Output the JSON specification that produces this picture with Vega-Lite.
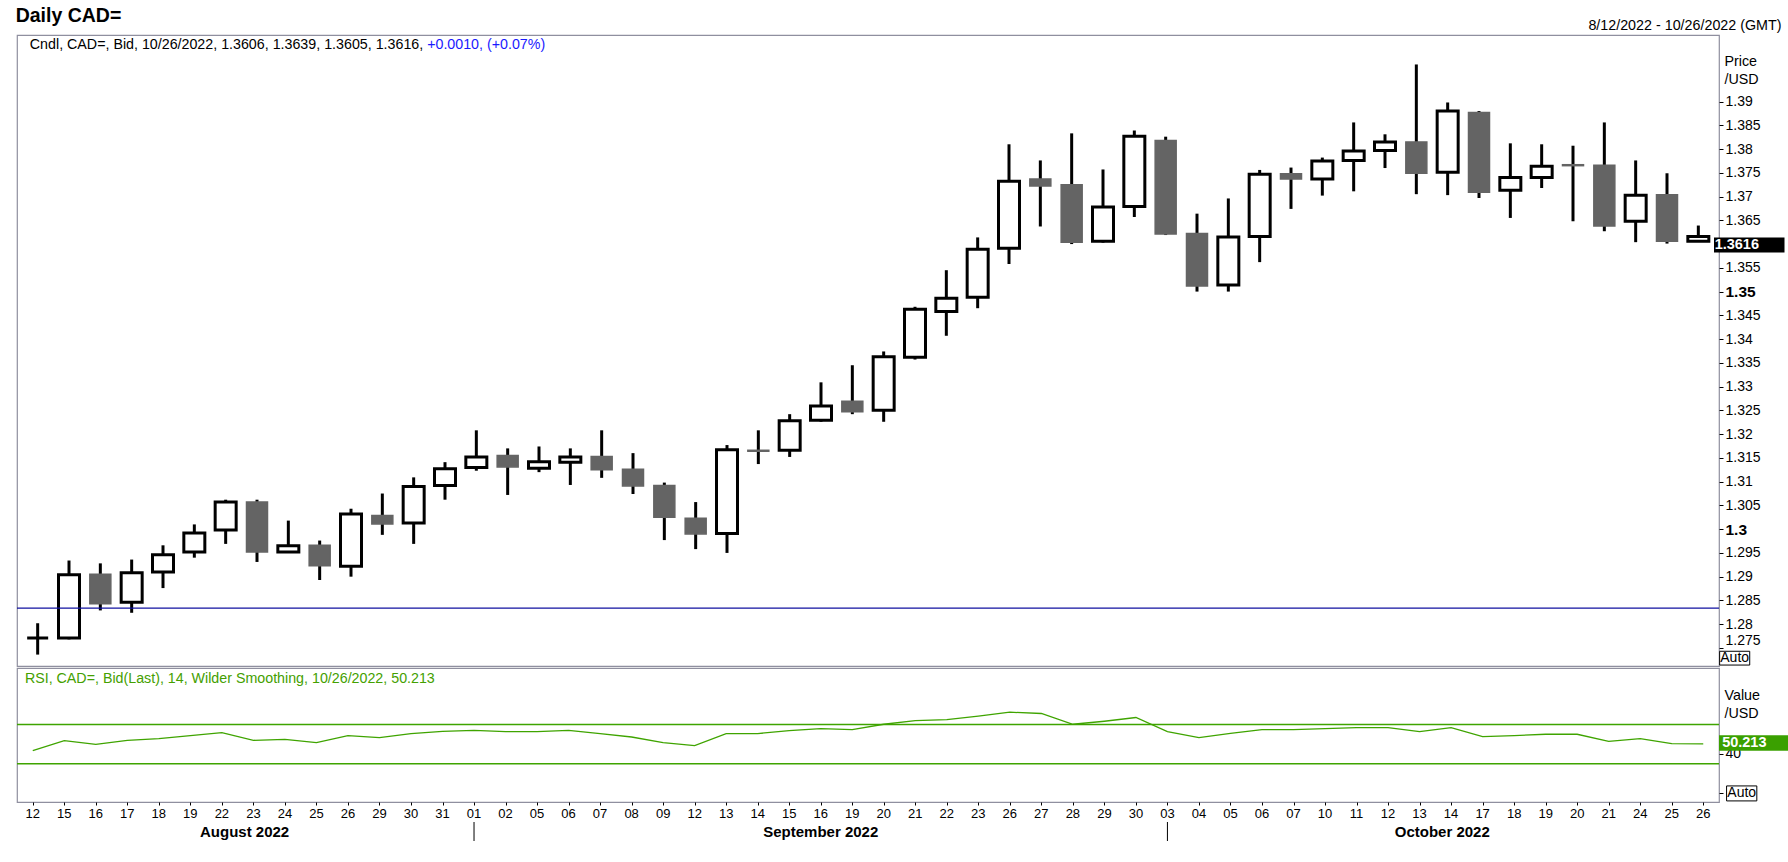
{
  "$schema": "https://vega.github.io/schema/vega-lite/v6.json",
  "background": "white",
  "padding": {"left": 15, "top": 6, "right": 0, "bottom": 0},
  "title": {"text": "Daily CAD=", "anchor": "start", "fontSize": 19.5, "fontWeight": "bold", "offset": -8.5},
  "spacing": 0,
  "config": {
    "font": "Liberation Sans",
    "view": {"stroke": "#8f8f9f", "strokeWidth": 1.2},
    "title": {"color": "black", "font": "Liberation Sans"},
    "axis": {"labelFont": "Liberation Sans", "titleFont": "Liberation Sans", "labelColor": "black", "titleColor": "black", "tickColor": "black", "domain": false, "grid": false, "labelOverlap": false}
  },
  "datasets": {
    "candles": [
      {"i": 0, "date": "2022-08-12", "d": "12", "o": 1.2771, "h": 1.2802, "l": 1.2736, "c": 1.2771, "rsi": 43.3},
      {"i": 1, "date": "2022-08-15", "d": "15", "o": 1.2771, "h": 1.2934, "l": 1.2768, "c": 1.2904, "rsi": 53.6},
      {"i": 2, "date": "2022-08-16", "d": "16", "o": 1.2905, "h": 1.2928, "l": 1.2829, "c": 1.2843, "rsi": 49.8},
      {"i": 3, "date": "2022-08-17", "d": "17", "o": 1.2846, "h": 1.2936, "l": 1.2824, "c": 1.2908, "rsi": 53.9},
      {"i": 4, "date": "2022-08-18", "d": "18", "o": 1.2910, "h": 1.2966, "l": 1.2876, "c": 1.2946, "rsi": 55.6},
      {"i": 5, "date": "2022-08-19", "d": "19", "o": 1.2952, "h": 1.3010, "l": 1.2940, "c": 1.2992, "rsi": 58.7},
      {"i": 6, "date": "2022-08-22", "d": "22", "o": 1.2998, "h": 1.3062, "l": 1.2969, "c": 1.3057, "rsi": 61.8},
      {"i": 7, "date": "2022-08-23", "d": "23", "o": 1.3057, "h": 1.3062, "l": 1.2931, "c": 1.2952, "rsi": 53.9},
      {"i": 8, "date": "2022-08-24", "d": "24", "o": 1.2952, "h": 1.3018, "l": 1.2950, "c": 1.2965, "rsi": 54.9},
      {"i": 9, "date": "2022-08-25", "d": "25", "o": 1.2966, "h": 1.2976, "l": 1.2893, "c": 1.2923, "rsi": 51.5},
      {"i": 10, "date": "2022-08-26", "d": "26", "o": 1.2922, "h": 1.3043, "l": 1.2900, "c": 1.3032, "rsi": 58.7},
      {"i": 11, "date": "2022-08-29", "d": "29", "o": 1.3029, "h": 1.3075, "l": 1.2988, "c": 1.3011, "rsi": 56.7},
      {"i": 12, "date": "2022-08-30", "d": "30", "o": 1.3013, "h": 1.3109, "l": 1.2969, "c": 1.3090, "rsi": 60.8},
      {"i": 13, "date": "2022-08-31", "d": "31", "o": 1.3092, "h": 1.3141, "l": 1.3062, "c": 1.3127, "rsi": 63.1},
      {"i": 14, "date": "2022-09-01", "d": "01", "o": 1.3130, "h": 1.3208, "l": 1.3123, "c": 1.3152, "rsi": 64.1},
      {"i": 15, "date": "2022-09-02", "d": "02", "o": 1.3155, "h": 1.3170, "l": 1.3072, "c": 1.3131, "rsi": 62.8},
      {"i": 16, "date": "2022-09-05", "d": "05", "o": 1.3128, "h": 1.3174, "l": 1.3120, "c": 1.3142, "rsi": 62.8},
      {"i": 17, "date": "2022-09-06", "d": "06", "o": 1.3141, "h": 1.3170, "l": 1.3093, "c": 1.3152, "rsi": 64.1},
      {"i": 18, "date": "2022-09-07", "d": "07", "o": 1.3153, "h": 1.3208, "l": 1.3108, "c": 1.3125, "rsi": 60.8},
      {"i": 19, "date": "2022-09-08", "d": "08", "o": 1.3126, "h": 1.3160, "l": 1.3074, "c": 1.3091, "rsi": 57.3},
      {"i": 20, "date": "2022-09-09", "d": "09", "o": 1.3092, "h": 1.3098, "l": 1.2977, "c": 1.3025, "rsi": 51.5},
      {"i": 21, "date": "2022-09-12", "d": "12", "o": 1.3023, "h": 1.3057, "l": 1.2958, "c": 1.2990, "rsi": 48.5},
      {"i": 22, "date": "2022-09-13", "d": "13", "o": 1.2991, "h": 1.3177, "l": 1.2950, "c": 1.3167, "rsi": 60.8},
      {"i": 23, "date": "2022-09-14", "d": "14", "o": 1.3166, "h": 1.3208, "l": 1.3137, "c": 1.3164, "rsi": 60.8},
      {"i": 24, "date": "2022-09-15", "d": "15", "o": 1.3166, "h": 1.3242, "l": 1.3152, "c": 1.3228, "rsi": 63.8},
      {"i": 25, "date": "2022-09-16", "d": "16", "o": 1.3229, "h": 1.3309, "l": 1.3226, "c": 1.3259, "rsi": 65.9},
      {"i": 26, "date": "2022-09-19", "d": "19", "o": 1.3269, "h": 1.3345, "l": 1.3242, "c": 1.3247, "rsi": 64.9},
      {"i": 27, "date": "2022-09-20", "d": "20", "o": 1.3250, "h": 1.3374, "l": 1.3226, "c": 1.3363, "rsi": 70.3},
      {"i": 28, "date": "2022-09-21", "d": "21", "o": 1.3362, "h": 1.3468, "l": 1.3357, "c": 1.3463, "rsi": 74.1},
      {"i": 29, "date": "2022-09-22", "d": "22", "o": 1.3458, "h": 1.3545, "l": 1.3407, "c": 1.3486, "rsi": 75.1},
      {"i": 30, "date": "2022-09-23", "d": "23", "o": 1.3488, "h": 1.3614, "l": 1.3465, "c": 1.3589, "rsi": 78.5},
      {"i": 31, "date": "2022-09-26", "d": "26", "o": 1.3591, "h": 1.3810, "l": 1.3558, "c": 1.3732, "rsi": 82.6},
      {"i": 32, "date": "2022-09-27", "d": "27", "o": 1.3737, "h": 1.3776, "l": 1.3637, "c": 1.3722, "rsi": 81.3},
      {"i": 33, "date": "2022-09-28", "d": "28", "o": 1.3725, "h": 1.3833, "l": 1.3600, "c": 1.3604, "rsi": 70.3},
      {"i": 34, "date": "2022-09-29", "d": "29", "o": 1.3606, "h": 1.3757, "l": 1.3603, "c": 1.3678, "rsi": 73.4},
      {"i": 35, "date": "2022-09-30", "d": "30", "o": 1.3679, "h": 1.3839, "l": 1.3657, "c": 1.3827, "rsi": 77.2},
      {"i": 36, "date": "2022-10-03", "d": "03", "o": 1.3818, "h": 1.3826, "l": 1.3619, "c": 1.3621, "rsi": 62.8},
      {"i": 37, "date": "2022-10-04", "d": "04", "o": 1.3622, "h": 1.3664, "l": 1.3500, "c": 1.3512, "rsi": 56.7},
      {"i": 38, "date": "2022-10-05", "d": "05", "o": 1.3514, "h": 1.3696, "l": 1.3500, "c": 1.3615, "rsi": 61.1},
      {"i": 39, "date": "2022-10-06", "d": "06", "o": 1.3616, "h": 1.3756, "l": 1.3562, "c": 1.3747, "rsi": 64.9},
      {"i": 40, "date": "2022-10-07", "d": "07", "o": 1.3748, "h": 1.3761, "l": 1.3674, "c": 1.3737, "rsi": 64.9},
      {"i": 41, "date": "2022-10-10", "d": "10", "o": 1.3737, "h": 1.3782, "l": 1.3702, "c": 1.3775, "rsi": 65.9},
      {"i": 42, "date": "2022-10-11", "d": "11", "o": 1.3776, "h": 1.3856, "l": 1.3711, "c": 1.3796, "rsi": 66.9},
      {"i": 43, "date": "2022-10-12", "d": "12", "o": 1.3797, "h": 1.3831, "l": 1.3760, "c": 1.3815, "rsi": 66.9},
      {"i": 44, "date": "2022-10-13", "d": "13", "o": 1.3815, "h": 1.3978, "l": 1.3705, "c": 1.3749, "rsi": 62.8},
      {"i": 45, "date": "2022-10-14", "d": "14", "o": 1.3751, "h": 1.3898, "l": 1.3703, "c": 1.3880, "rsi": 66.9},
      {"i": 46, "date": "2022-10-17", "d": "17", "o": 1.3877, "h": 1.3880, "l": 1.3697, "c": 1.3709, "rsi": 57.7},
      {"i": 47, "date": "2022-10-18", "d": "18", "o": 1.3713, "h": 1.3812, "l": 1.3655, "c": 1.3740, "rsi": 58.7},
      {"i": 48, "date": "2022-10-19", "d": "19", "o": 1.3740, "h": 1.3810, "l": 1.3718, "c": 1.3764, "rsi": 60.1},
      {"i": 49, "date": "2022-10-20", "d": "20", "o": 1.3767, "h": 1.3807, "l": 1.3648, "c": 1.3765, "rsi": 60.1},
      {"i": 50, "date": "2022-10-21", "d": "21", "o": 1.3766, "h": 1.3856, "l": 1.3627, "c": 1.3638, "rsi": 52.9},
      {"i": 51, "date": "2022-10-24", "d": "24", "o": 1.3648, "h": 1.3776, "l": 1.3604, "c": 1.3703, "rsi": 55.6},
      {"i": 52, "date": "2022-10-25", "d": "25", "o": 1.3704, "h": 1.3749, "l": 1.3601, "c": 1.3606, "rsi": 50.5},
      {"i": 53, "date": "2022-10-26", "d": "26", "o": 1.3606, "h": 1.3639, "l": 1.3605, "c": 1.3616, "rsi": 50.213}
    ],
    "refLine": [{"level": 1.2834}],
    "rsiLevels": [{"level": 70}, {"level": 30}],
    "priceHeader": [{"text": "Cndl, CAD=, Bid, 10/26/2022, 1.3606, 1.3639, 1.3605, 1.3616, ", "chg": "+0.0010, (+0.07%)"}],
    "rsiHeader": [{"text": "RSI, CAD=, Bid(Last),  14, Wilder Smoothing, 10/26/2022, 50.213"}],
    "lastPrice": [{"label": "1.3616", "value": 1.3616}],
    "lastRsi": [{"label": "50.213", "value": 50.213}],
    "auto": [{"label": "Auto"}],
    "months": [
      {"month": "August 2022", "i": 6.72},
      {"month": "September 2022", "i": 25},
      {"month": "October 2022", "i": 44.72}
    ],
    "monthStarts": [{"i": 14, "date": "2022-09-01"}, {"i": 36, "date": "2022-10-03"}]
  },
  "vconcat": [
    {
      "width": 1702,
      "height": 631,
      "title": {"text": "8/12/2022 - 10/26/2022 (GMT)", "anchor": "end", "frame": "bounds", "fontSize": 14.3, "fontWeight": "normal", "offset": 0, "dx": -3, "dy": -2},
      "layer": [
        {
          "data": {"name": "candles"},
          "mark": {"type": "rule", "strokeWidth": 3, "color": "black"},
          "encoding": {
            "x": {"field": "i", "type": "quantitative", "scale": {"domain": [-0.5, 53.5], "nice": false, "zero": false}, "axis": null},
            "y": {
              "field": "l", "type": "quantitative",
              "scale": {"domain": [1.2712, 1.404], "nice": false, "zero": false},
              "axis": {
                "orient": "right",
                "values": [1.275, 1.28, 1.285, 1.29, 1.295, 1.3, 1.305, 1.31, 1.315, 1.32, 1.325, 1.33, 1.335, 1.34, 1.345, 1.35, 1.355, 1.36, 1.365, 1.37, 1.375, 1.38, 1.385, 1.39],
                "tickCount": 40,
                "format": ".3~f",
                "labelOverlap": false,
                "labelBound": false,
                "tickSize": 4,
                "labelPadding": 2,
                "labelBaseline": {"condition": {"test": "datum.value < 1.276", "value": "bottom"}, "value": "middle"},
                "labelFontSize": {"condition": {"test": "abs(datum.value*20 - round(datum.value*20)) < 0.000001", "value": 15.5}, "value": 14},
                "labelFontWeight": {"condition": {"test": "abs(datum.value*20 - round(datum.value*20)) < 0.000001", "value": "bold"}, "value": "normal"},
                "title": ["Price", "/USD"],
                "titleAngle": 0,
                "titleAlign": "left",
                "titleBaseline": "top",
                "titleX": 5,
                "titleY": 19.5,
                "titleFontSize": 14.3,
                "titleFontWeight": "normal",
                "titleLineHeight": 18
              }
            },
            "y2": {"field": "h"}
          }
        },
        {
          "data": {"name": "candles"},
          "mark": {"type": "bar", "width": 21},
          "encoding": {
            "x": {"field": "i", "type": "quantitative"},
            "y": {"field": "o", "type": "quantitative"},
            "y2": {"field": "c"},
            "fill": {"condition": {"test": "datum.c >= datum.o", "value": "white"}, "value": "#646464"},
            "stroke": {"condition": {"test": "datum.c >= datum.o", "value": "black"}, "value": "#646464"},
            "strokeWidth": {"condition": {"test": "datum.c >= datum.o", "value": 3}, "value": 1.5}
          }
        },
        {
          "data": {"name": "refLine"},
          "mark": {"type": "rule", "color": "#1010a0", "strokeWidth": 1.2},
          "encoding": {"y": {"field": "level", "type": "quantitative"}}
        },
        {
          "data": {"name": "priceHeader"},
          "mark": {"type": "text", "align": "left", "baseline": "middle", "fontSize": 14.25, "color": "black"},
          "encoding": {"x": {"datum": -0.25}, "y": {"datum": 1.4019}, "text": {"field": "text"}}
        },
        {
          "data": {"name": "priceHeader"},
          "mark": {"type": "text", "align": "left", "baseline": "middle", "fontSize": 14.25, "color": "#1a1aff"},
          "encoding": {"x": {"datum": 12.43}, "y": {"datum": 1.4019}, "text": {"field": "chg"}}
        },
        {
          "data": {"name": "lastPrice"},
          "mark": {"type": "rect", "color": "black"},
          "encoding": {"x": {"datum": 53.5}, "x2": {"datum": 55.75}, "y": {"datum": 1.3614}, "y2": {"datum": 1.3582}}
        },
        {
          "data": {"name": "lastPrice"},
          "mark": {"type": "text", "align": "left", "baseline": "middle", "fontSize": 14.5, "fontWeight": "bold", "color": "white"},
          "encoding": {"x": {"datum": 53.52}, "y": {"datum": 1.3598}, "text": {"field": "label"}}
        },
        {
          "data": {"name": "auto"},
          "mark": {"type": "rect", "fill": "white", "stroke": "black", "strokeWidth": 1},
          "encoding": {"x": {"datum": 53.68}, "x2": {"datum": 54.64}, "y": {"datum": 1.2743}, "y2": {"datum": 1.2714}}
        },
        {
          "data": {"name": "auto"},
          "mark": {"type": "text", "align": "center", "baseline": "middle", "fontSize": 14, "color": "black"},
          "encoding": {"x": {"datum": 54.16}, "y": {"datum": 1.27285}, "text": {"field": "label"}}
        }
      ]
    },
    {
      "width": 1702,
      "height": 134,
      "layer": [
        {
          "data": {"name": "rsiLevels"},
          "mark": {"type": "rule", "color": "#3fa400", "strokeWidth": 1.5},
          "encoding": {
            "y": {
              "field": "level", "type": "quantitative",
              "scale": {"domain": [-9, 127.7], "nice": false, "zero": false},
              "axis": {
                "orient": "right",
                "values": [0, 40],
                "labelExpr": "datum.value == 0 ? '' : datum.label",
                "labelOverlap": false,
                "tickSize": 4,
                "labelPadding": 2,
                "labelFontSize": 14,
                "title": ["Value", "/USD"],
                "titleAngle": 0,
                "titleAlign": "left",
                "titleBaseline": "top",
                "titleX": 5,
                "titleY": 20,
                "titleFontSize": 14.3,
                "titleFontWeight": "normal",
                "titleLineHeight": 18
              }
            }
          }
        },
        {
          "data": {"name": "candles"},
          "mark": {"type": "line", "color": "#3fa400", "strokeWidth": 1.3},
          "encoding": {
            "x": {
              "field": "i", "type": "quantitative",
              "scale": {"domain": [-0.5, 53.5], "nice": false, "zero": false},
              "axis": {"orient": "bottom", "values": [0, 1, 2, 3, 4, 5, 6, 7, 8, 9, 10, 11, 12, 13, 14, 15, 16, 17, 18, 19, 20, 21, 22, 23, 24, 25, 26, 27, 28, 29, 30, 31, 32, 33, 34, 35, 36, 37, 38, 39, 40, 41, 42, 43, 44, 45, 46, 47, 48, 49, 50, 51, 52, 53], "tickCount": 80, "labels": false, "ticks": true, "tickSize": 3, "title": null}
            },
            "y": {"field": "rsi", "type": "quantitative"}
          }
        },
        {
          "data": {"name": "rsiHeader"},
          "mark": {"type": "text", "align": "left", "baseline": "middle", "fontSize": 14.25, "color": "#44a000"},
          "encoding": {"x": {"datum": -0.25}, "y": {"datum": 116.5}, "text": {"field": "text"}}
        },
        {
          "data": {"name": "lastRsi"},
          "mark": {"type": "rect", "color": "#3aa000"},
          "encoding": {"x": {"datum": 53.5}, "x2": {"datum": 55.75}, "y": {"datum": 59}, "y2": {"datum": 43.3}}
        },
        {
          "data": {"name": "lastRsi"},
          "mark": {"type": "text", "align": "left", "baseline": "middle", "fontSize": 14.5, "fontWeight": "bold", "color": "white"},
          "encoding": {"x": {"datum": 53.6}, "y": {"datum": 51.1}, "text": {"field": "label"}}
        },
        {
          "data": {"name": "auto"},
          "mark": {"type": "rect", "fill": "white", "stroke": "black", "strokeWidth": 1},
          "encoding": {"x": {"datum": 53.74}, "x2": {"datum": 54.7}, "y": {"datum": 7.4}, "y2": {"datum": -7.9}}
        },
        {
          "data": {"name": "auto"},
          "mark": {"type": "text", "align": "center", "baseline": "middle", "fontSize": 14, "color": "black"},
          "encoding": {"x": {"datum": 54.22}, "y": {"datum": -0.2}, "text": {"field": "label"}}
        }
      ]
    },
    {
      "width": 1702,
      "height": 14,
      "view": {"stroke": null},
      "data": {"name": "candles"},
      "mark": {"type": "text", "fontSize": 13, "color": "black"},
      "encoding": {
        "x": {"field": "i", "type": "quantitative", "scale": {"domain": [-0.5, 53.5], "nice": false, "zero": false}, "axis": null},
        "text": {"field": "d"}
      }
    },
    {
      "width": 1702,
      "height": 19,
      "view": {"stroke": null},
      "layer": [
        {
          "data": {"name": "months"},
          "mark": {"type": "text", "fontSize": 15, "fontWeight": "bold", "color": "black"},
          "encoding": {
            "x": {"field": "i", "type": "quantitative", "scale": {"domain": [-0.5, 53.5], "nice": false, "zero": false}, "axis": null},
            "text": {"field": "month"}
          }
        },
        {
          "data": {"name": "monthStarts"},
          "mark": {"type": "rule", "color": "black", "strokeWidth": 1},
          "encoding": {"x": {"field": "i", "type": "quantitative"}}
        }
      ]
    }
  ]
}
